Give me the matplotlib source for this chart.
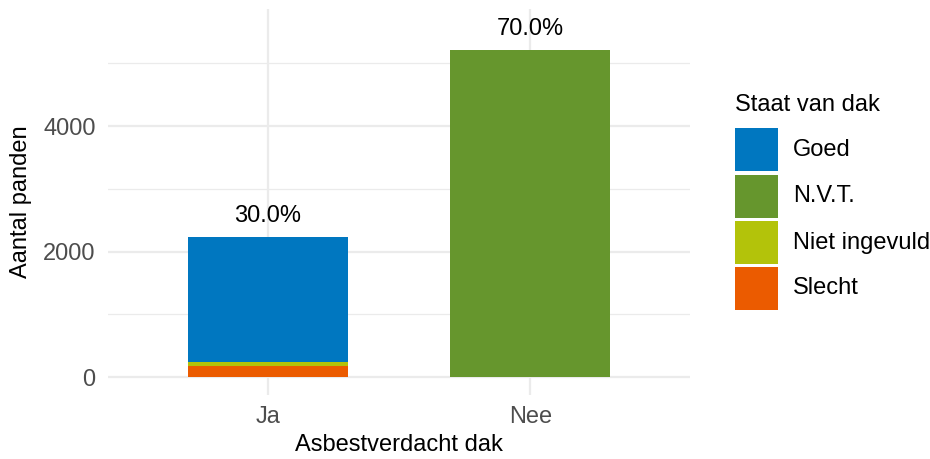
import matplotlib
matplotlib.use("Agg")
import matplotlib.pyplot as plt
from matplotlib.patches import Rectangle
import numpy as np

plt.rcParams['font.family'] = ['Liberation Sans', 'DejaVu Sans']

categories = ["Ja", "Nee"]
states = ["Goed", "N.V.T.", "Niet ingevuld", "Slecht"]
# counts per state for each category (Ja, Nee)
goed = [1990, 0]
nvt = [0, 5212]
niet_ingevuld = [70, 0]
slecht = [175, 0]
pct_labels = ["30.0%", "70.0%"]
colors = {"Goed": "#0077C0", "N.V.T.": "#66962D", "Niet ingevuld": "#B3C30A", "Slecht": "#EB5B00"}

W, H = 930, 459
FS = 17
fig = plt.figure(figsize=(W/100, H/100), dpi=100)
ax = fig.add_axes([108/W, 1-395/H, (690-108)/W, (395-9)/H])

x = np.arange(1, len(categories)+1)
width = 0.61
stack_order = [("Slecht", slecht), ("Niet ingevuld", niet_ingevuld), ("Goed", goed), ("N.V.T.", nvt)]
bottom = np.zeros(len(categories))
for name, vals in stack_order:
    v = np.array(vals, dtype=float)
    ax.bar(x, v, width, bottom=bottom, color=colors[name], zorder=3, linewidth=0)
    bottom += v

for xi, tot, lab in zip(x, bottom, pct_labels):
    ax.annotate(lab, (xi, tot), xytext=(0, 7), textcoords='offset points',
                ha='center', va='bottom', fontsize=FS, color='black', zorder=4)

ax.set_xlim(1-0.608, 2+0.608)
ax.set_ylim(-282, 5865)
ax.set_xticks(x)
ax.set_xticklabels(categories)
ax.set_yticks([0, 2000, 4000])
ax.set_yticks([1000, 3000, 5000], minor=True)
ax.grid(True, which='major', color='#ebebeb', linewidth=1.6, zorder=0)
ax.grid(True, which='minor', axis='y', color='#ebebeb', linewidth=0.9, zorder=0)
ax.tick_params(which='both', length=0, labelsize=FS, labelcolor='#4d4d4d')
ax.tick_params(axis='y', pad=9)
ax.tick_params(axis='x', pad=8)
for s in ax.spines.values():
    s.set_visible(False)
ax.set_xlabel("Asbestverdacht dak", fontsize=FS, color='black', labelpad=4)
ax.set_ylabel("Aantal panden", fontsize=FS, color='black', labelpad=8)

# legend drawn manually (pixel layout of the reference)
fig.text(735/W, 1-105/H, "Staat van dak", fontsize=FS, color='black', ha='left', va='center')
key_tops = [128, 175, 221, 267]
for s, top in zip(states, key_tops):
    fig.add_artist(Rectangle((735/W, 1-(top+43)/H), 43/W, 43/H, transform=fig.transFigure,
                             facecolor=colors[s], edgecolor='none'))
    fig.text(793/W, 1-(top+21.5)/H, s, fontsize=FS, color='black', ha='left', va='center')

fig.savefig("out.png", dpi=100)
